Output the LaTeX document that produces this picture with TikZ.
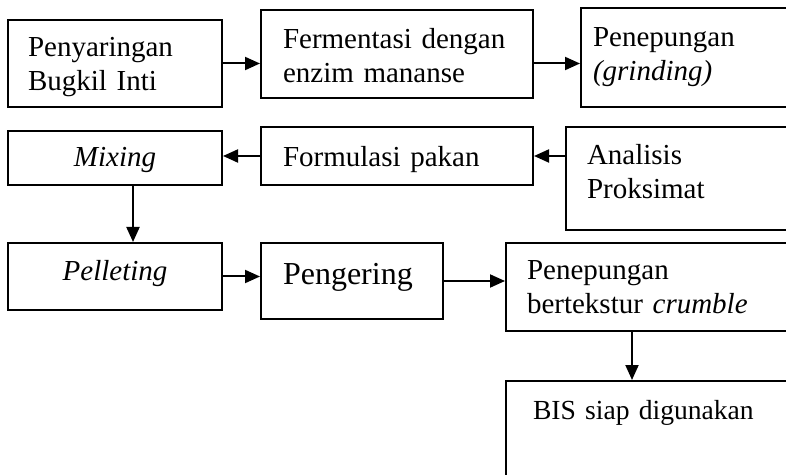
\documentclass[tikz,border=0pt]{standalone}
\usepackage{fontspec}
\setmainfont{Liberation Serif}
\usetikzlibrary{arrows.meta}

\begin{document}
\begin{tikzpicture}[x=0.5pt, y=-0.5pt, >={Triangle[length=7.5pt,width=6.5pt]},
        box/.style={draw, line width=1pt, inner ysep=0pt, font=\fontsize{14.5}{17}\selectfont},
        flow/.style={->, line width=1pt}]
    \useasboundingbox (0,0) rectangle (786,475);
    \clip (0,0) rectangle (786,475);
    % row 1
    \node[box, minimum width=107pt, text height=18.5pt, text depth=25pt, text width=87pt, inner xsep=10pt, align=left]
        (pny) at (115,63.5) {Penyaringan\\Bugkil Inti};
    \node[box, minimum width=136pt, text height=19.5pt, text depth=24.5pt, text width=114pt, inner xsep=11pt, align=left]
        (fer) at (397,54) {Fermentasi dengan\\enzim mananse};
    \node[box, minimum width=109.5pt, text height=19.5pt, text depth=30pt, text width=97.5pt, inner xsep=6pt, align=left]
        (grd) at (690.5,57.5) {Penepungan\\\textit{(grinding)}};
    % row 2
    \node[box, minimum width=107pt, text height=18pt, text depth=9pt, align=center]
        (mix) at (115,158) {\textit{Mixing}};
    \node[box, minimum width=136pt, text height=20pt, text depth=9pt, text width=114pt, inner xsep=11pt, align=left]
        (frm) at (397,156) {Formulasi pakan};
    \node[box, minimum width=117pt, text height=18.75pt, text depth=32.75pt, text width=96pt, inner xsep=10.5pt, align=left]
        (ana) at (683,178.5) {Analisis\\Proksimat};
    % row 3
    \node[box, minimum width=107pt, text height=18.85pt, text depth=14.65pt, align=center]
        (pel) at (115,276.5) {\textit{Pelleting}};
    \node[box, minimum width=91pt, text height=21pt, text depth=17pt, text width=69pt, inner xsep=11pt, align=left,
        font=\fontsize{16}{18}\selectfont]
        (pgr) at (352,281) {Pengering};
    \node[box, minimum width=147pt, text height=18.5pt, text depth=25.5pt, text width=126pt, inner xsep=10.5pt, align=left]
        (crm) at (653,287) {Penepungan\\bertekstur \textit{crumble}};
    \node[box, minimum width=147pt, text height=19pt, text depth=40.5pt, text width=120pt, inner xsep=13.5pt, align=left,
        font=\fontsize{13.8}{16}\selectfont]
        (bis) at (653,440.5) {BIS siap digunakan};

    \draw[flow] (pny.east) -- (pny.east -| fer.west);
    \draw[flow] (fer.east |- pny.east) -- (pny.east -| grd.west);
    \draw[flow] (frm.west) -- (frm.west -| mix.east);
    \draw[flow] (frm.east -| ana.west) -- (frm.east);
    \draw[flow] ([xshift=9pt]mix.south) -- ([xshift=9pt]mix.south |- pel.north);
    \draw[flow] (pel.east) -- (pel.east -| pgr.west);
    \draw[flow] (pgr.east) -- (pgr.east -| crm.west);
    \draw[flow] ([xshift=-10.5pt]crm.south) -- ([xshift=-10.5pt]crm.south |- bis.north);
\end{tikzpicture}
\end{document}
